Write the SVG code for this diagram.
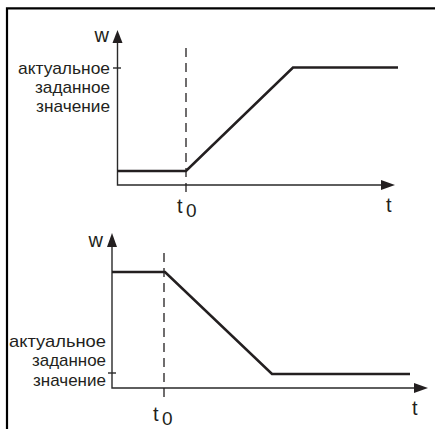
<svg xmlns="http://www.w3.org/2000/svg" width="435" height="429" viewBox="0 0 435 429">
<defs>
<style>
.frame{fill:none;stroke:#000;stroke-width:2.2}
.axis{fill:none;stroke:#2a2a2a;stroke-width:1.4}
.curve{fill:none;stroke:#231f20;stroke-width:2.6;stroke-linejoin:miter}
.dash{fill:none;stroke:#231f20;stroke-width:1.3;stroke-dasharray:9 6}
.head{fill:#231f20}
.lbl{font-family:"Liberation Sans",Arial,sans-serif;font-size:17px;fill:#231f20}
.big{font-family:"Liberation Sans",Arial,sans-serif;font-size:20px;fill:#231f20}
.end{text-anchor:end}
.sub{font-family:"Liberation Sans",Arial,sans-serif;font-size:19px;fill:#231f20}
</style>
</defs>
<rect width="435" height="429" fill="#fff"/>
<path class="frame" d="M7 429 V8.3 H435"/>

<g id="top-chart">
  <g id="top-axes">
    <path class="axis" d="M117.5 42 V185 H383"/>
    <polygon class="head" points="117.5,30 112.5,43 122.5,43"/>
    <polygon class="head" points="395,185 381,180 381,190"/>
    <path class="axis" d="M113 68 H121"/>
  </g>
  <path id="top-dash" class="dash" d="M186 48 V197"/>
  <path id="top-curve" class="curve" d="M117 171 H186 L293 67.5 H398"/>
  <g id="top-labels">
    <text class="big end" x="109" y="42">w</text>
    <text class="lbl end" x="110" y="74" textLength="92" lengthAdjust="spacingAndGlyphs">актуальное</text>
    <text class="lbl end" x="110" y="93" textLength="75" lengthAdjust="spacingAndGlyphs">заданное</text>
    <text class="lbl end" x="110" y="112" textLength="74" lengthAdjust="spacingAndGlyphs">значение</text>
    <text class="big" x="177" y="213">t</text>
    <text class="sub" x="186" y="217">0</text>
    <text class="big" x="386" y="212">t</text>
  </g>
</g>

<g id="bottom-chart">
  <g id="bottom-axes">
    <path class="axis" d="M112 245 V388 H416"/>
    <polygon class="head" points="112,233 107,247 117,247"/>
    <polygon class="head" points="428,388 414,383 414,393"/>
    <path class="axis" d="M108 373 H116"/>
  </g>
  <path id="bottom-dash" class="dash" d="M164 253 V400"/>
  <path id="bottom-curve" class="curve" d="M112 272 H165 L272 374 H410"/>
  <g id="bottom-labels">
    <text class="big end" x="103" y="247">w</text>
    <text class="lbl end" x="106" y="347" textLength="97" lengthAdjust="spacingAndGlyphs">актуальное</text>
    <text class="lbl end" x="106" y="366" textLength="74" lengthAdjust="spacingAndGlyphs">заданное</text>
    <text class="lbl end" x="106" y="385.5" textLength="73" lengthAdjust="spacingAndGlyphs">значение</text>
    <text class="big" x="153" y="421">t</text>
    <text class="sub" x="162" y="425">0</text>
    <text class="big" x="412" y="415">t</text>
  </g>
</g>
</svg>
